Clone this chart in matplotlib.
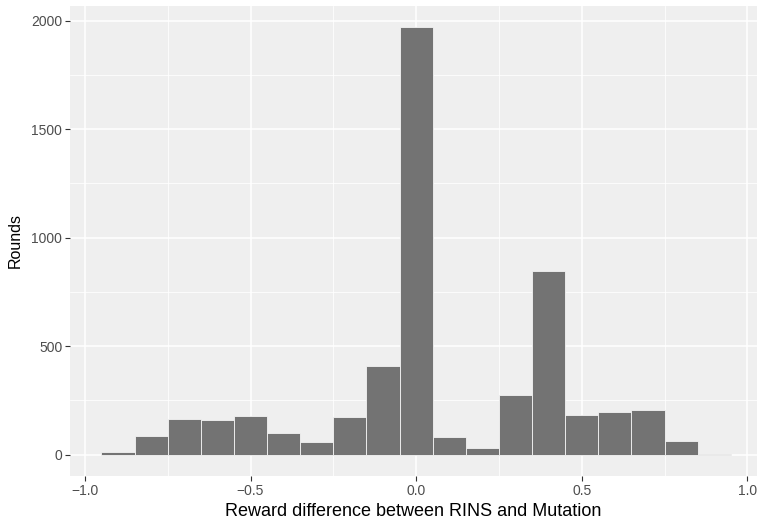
import matplotlib
matplotlib.use("Agg")
import matplotlib.pyplot as plt
from matplotlib.ticker import MultipleLocator

plt.rcParams['font.family'] = ['Liberation Sans', 'DejaVu Sans']

# histogram bins (centres) and counts
bin_centers = [-0.9, -0.8, -0.7, -0.6, -0.5, -0.4, -0.3, -0.2, -0.1, 0.0,
               0.1, 0.2, 0.3, 0.4, 0.5, 0.6, 0.7, 0.8, 0.9]
counts = [10, 86, 164, 158, 178, 98, 58, 174, 409, 1970,
          83, 29, 275, 846, 183, 195, 207, 63, 2]
bin_width = 0.1

fig = plt.figure(figsize=(7.57, 5.25), dpi=100)
ax = fig.add_axes([70 / 757, 49 / 525, 1 - 70 / 757, (476 - 5.8) / 525])

ax.set_facecolor("#EFEFEF")
ax.bar(bin_centers, counts, width=bin_width, color="#737373",
       edgecolor="#F4F4F4", linewidth=0.6, zorder=3)

ax.set_xlim(-1.045, 1.029)
ax.set_ylim(-98.5, 2068.5)

ax.xaxis.set_major_locator(MultipleLocator(0.5))
ax.xaxis.set_minor_locator(MultipleLocator(0.25))
ax.yaxis.set_major_locator(MultipleLocator(500))
ax.yaxis.set_minor_locator(MultipleLocator(250))
ax.set_xticks([-1.0, -0.5, 0.0, 0.5, 1.0])
ax.set_xticklabels(["\u22121.0", "\u22120.5", "0.0", "0.5", "1.0"])

ax.grid(which="major", color="white", linewidth=1.1, zorder=0)
ax.grid(which="minor", color="white", linewidth=0.55, zorder=0)
ax.set_axisbelow(True)

for s in ax.spines.values():
    s.set_visible(False)

ax.tick_params(which="major", length=3.5, width=0.8, color="#333333",
               labelsize=10, labelcolor="#4D4D4D", pad=2)
ax.tick_params(which="minor", length=0)

ax.set_xlabel("Reward difference between RINS and Mutation", fontsize=13,
              labelpad=4)
ax.set_ylabel("Rounds", fontsize=11.5, labelpad=6)

fig.savefig("out.png", dpi=100)
